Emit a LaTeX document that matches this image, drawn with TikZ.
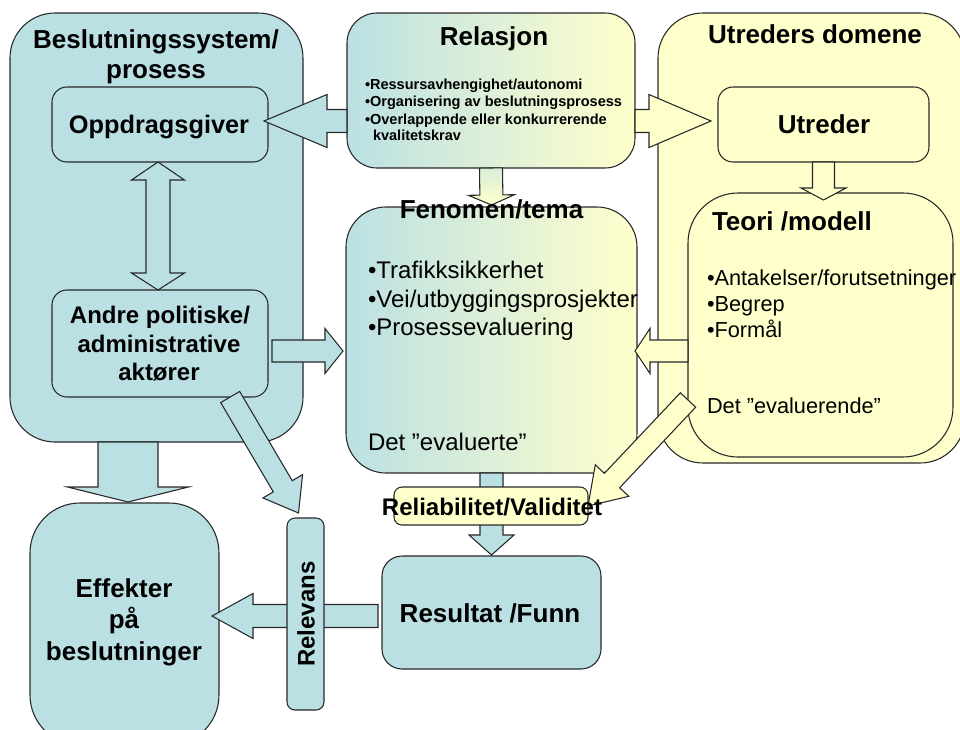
\documentclass[tikz,border=0pt]{standalone}
\usepackage{fontspec}
\setmainfont{Liberation Sans}
\usetikzlibrary{calc}

\definecolor{lblue}{RGB}{187,224,227}
\definecolor{lyellow}{RGB}{255,255,204}
\definecolor{edge}{RGB}{40,40,40}

% lengths are given in units of 0.75pt
\newcommand\pxl[1]{#1*0.75pt}
\newcommand\fsz[2]{\fontsize{#1}{#2}\selectfont}

\tikzset{
  panel/.style={draw=edge, line width=0.8pt, inner sep=0pt, outer sep=0pt},
  bluepanel/.style={panel, fill=lblue},
  yellowpanel/.style={panel, fill=lyellow},
  gradpanel/.style={panel, left color=lblue, right color=lyellow},
  bluearrow/.style={draw=edge, line width=0.8pt, fill=lblue},
  yellowarrow/.style={draw=edge, line width=0.8pt, fill=lyellow},
  mixarrow/.style={draw=edge, line width=0.8pt, top color=lblue!55!lyellow, bottom color=lyellow},
  txt/.style={inner sep=0pt, outer sep=0pt, text=black},
  headline/.style={txt, anchor=base, font=\bfseries\fsz{19.5}{22}},
  subhead/.style={txt, anchor=base, font=\bfseries\fsz{18}{21}},
  bigitem/.style={txt, anchor=base west, font=\fsz{18}{21}},
  miditem/.style={txt, anchor=base west, font=\fsz{16.3}{19}},
  smallitem/.style={txt, anchor=base west, font=\bfseries\fsz{10.9}{13}},
}

% rounded panel: style, name, centre x, centre y, width, height, corner radius
\newcommand\panel[7]{%
  \node[#1, minimum width=\pxl{#5}, minimum height=\pxl{#6}, rounded corners=\pxl{#7}] (#2) at (#3,#4) {};}

% block arrow: style, tail, tip, shaft half width, head half width, head length
\newcommand\blockarrow[6]{%
  \path (#2) coordinate (ba-s) (#3) coordinate (ba-e);
  \path ($(ba-e)!{\pxl{#6}}!(ba-s)$) coordinate (ba-h);
  \draw[#1] ($(ba-s)!{\pxl{#4}}!90:(ba-e)$) -- ($(ba-h)!{\pxl{#4}}!90:(ba-e)$)
    -- ($(ba-h)!{\pxl{#5}}!90:(ba-e)$) -- (ba-e)
    -- ($(ba-h)!{\pxl{#5}}!-90:(ba-e)$) -- ($(ba-h)!{\pxl{#4}}!-90:(ba-e)$)
    -- ($(ba-s)!{\pxl{#4}}!-90:(ba-e)$) -- cycle;}

\begin{document}
\begin{tikzpicture}[x=0.75pt, y=-0.75pt]
\useasboundingbox (0,0) rectangle (960,729);
\fill[white] (0,0) rectangle (960,729);
\begin{scope}
\clip (0,0) rectangle (960,729);

% row guides for the horizontal arrows
\coordinate (toprow) at (0,121);
\coordinate (midrow) at (0,351);
\coordinate (lowrow) at (0,616);
\coordinate (evalrow) at (0,400);

% outer domains
\panel{bluepanel}{besl}{156.5}{227.5}{293}{429}{45}
\panel{yellowpanel}{utrd}{811.5}{238}{307}{450}{45}

% inner panels
\panel{bluepanel}{opp}{160}{124.5}{216}{75}{15}
\panel{bluepanel}{and}{160}{343.5}{216}{107}{15}
\panel{yellowpanel}{utr}{823.5}{124.5}{211}{75}{15}
\panel{yellowpanel}{teo}{820.5}{325}{265}{264}{50}
\panel{gradpanel}{rel}{491}{90.5}{288}{155}{30}
\panel{gradpanel}{fen}{491.5}{340}{291}{266}{40}
\panel{bluepanel}{eff}{124.5}{624}{189}{242}{50}

% arrows of the upper part
\blockarrow{bluearrow}{rel.west |- toprow}{$(opp.east |- toprow)+(-4,0)$}{11.5}{26.5}{63}
\blockarrow{yellowarrow}{rel.east |- toprow}{$(utr.west |- toprow)+(-7,0)$}{11.5}{26.5}{62}
\coordinate (da-t) at ($(opp.south)+(-2,0)$);
\coordinate (da-b) at ($(and.north)+(-2,0)$);
\draw[bluearrow] (da-t) -- ++(26.5,18) -- ++(-14.5,0) -- ($(da-b)+(12,-17)$) -- ++(14.5,0)
  -- (da-b) -- ++(-26.5,-17) -- ++(14.5,0) -- ($(da-t)+(-12,18)$) -- ++(-14.5,0) -- cycle;
\blockarrow{yellowarrow}{utr.south}{$(utr.south)+(0,38)$}{11}{22.5}{12}
\blockarrow{mixarrow}{rel.south}{$(fen.north)+(0,-2)$}{11.5}{23}{10}
\blockarrow{bluearrow}{$(and.east |- midrow)+(4,0)$}{$(fen.west |- midrow)+(-3,0)$}{11}{22.5}{18}
\blockarrow{yellowarrow}{teo.west |- midrow}{$(fen.east |- midrow)+(-2,0)$}{11}{22.5}{15}

% arrows of the lower part
\blockarrow{bluearrow}{$(eff.north |- besl.south)+(3.5,0)$}{$(eff.north)+(3.5,-1)$}{30}{60.5}{15}
\blockarrow{bluearrow}{fen.south}{$(fen.south)+(0,82)$}{11.5}{22.5}{20}
\blockarrow{bluearrow}{$(lowrow -| 382,0)+(-4,0)$}{$(eff.east |- lowrow)+(-7,0)$}{11.5}{22.5}{41}

\panel{yellowpanel}{rb}{491}{506}{194}{38}{8}
\blockarrow{yellowarrow}{teo.west |- evalrow}{rb.east}{10.5}{23}{35}
\panel{bluepanel}{res}{491.5}{612.5}{219}{113}{20}
\panel{bluepanel}{rlv}{305.5}{614}{37}{192}{8}
\blockarrow{bluearrow}{$(and.south)!0.65!(and.south east)$}{$(rlv.north)+(-7,-5)$}{11}{23}{31}

% texts
\node[headline] (besl-l1) at (156,48) {Beslutningssystem/};
\node[headline] (besl-l2) at (156,78) {prosess};
\node[headline, font=\bfseries\fsz{19}{22}] (opp-t) at (159,133) {Oppdragsgiver};
\node[subhead] (and-l1) at (160,323) {Andre politiske/};
\node[subhead] (and-l2) at (159,352) {administrative};
\node[subhead] (and-l3) at (159,380) {aktører};

\node[headline] (rel-t) at (494,45) {Relasjon};
\node[smallitem] (rel-l1) at (365,89) {•Ressursavhengighet/autonomi};
\node[smallitem] (rel-l2) at (365,106) {•Organisering av beslutningsprosess};
\node[smallitem] (rel-l3) at (365,124) {•Overlappende eller konkurrerende};
\node[smallitem] (rel-l4) at (373,140) {kvalitetskrav};

\node[headline] (utrd-t) at (815,43) {Utreders domene};
\node[headline] (utr-t) at (824,133) {Utreder};
\node[headline, anchor=base west] (teo-t) at (712,230) {Teori /modell};
\node[miditem] (teo-l1) at (707,285) {•Antakelser/forutsetninger};
\node[miditem] (teo-l2) at (707,311) {•Begrep};
\node[miditem] (teo-l3) at (707,337) {•Formål};
\node[miditem] (teo-l4) at (707,413) {Det ”evaluerende”};

\node[headline] (fen-t) at (491.5,218) {Fenomen/tema};
\node[bigitem] (fen-l1) at (368,278) {•Trafikksikkerhet};
\node[bigitem] (fen-l2) at (368,307) {•Vei/utbyggingsprosjekter};
\node[bigitem] (fen-l3) at (368,335) {•Prosessevaluering};
\node[bigitem] (fen-l4) at (368,450) {Det ”evaluerte”};

\node[subhead] (rb-t) at (492,515) {Reliabilitet/Validitet};
\node[headline] (res-t) at (490,622) {Resultat /Funn};
\node[txt, rotate=90, font=\bfseries\fsz{18}{21}] (rlv-t) at (306,614) {Relevans};
\node[headline] (eff-l1) at (124,597) {Effekter};
\node[headline] (eff-l2) at (124,628) {på};
\node[headline] (eff-l3) at (124,660) {beslutninger};
\end{scope}
\end{tikzpicture}
\end{document}
